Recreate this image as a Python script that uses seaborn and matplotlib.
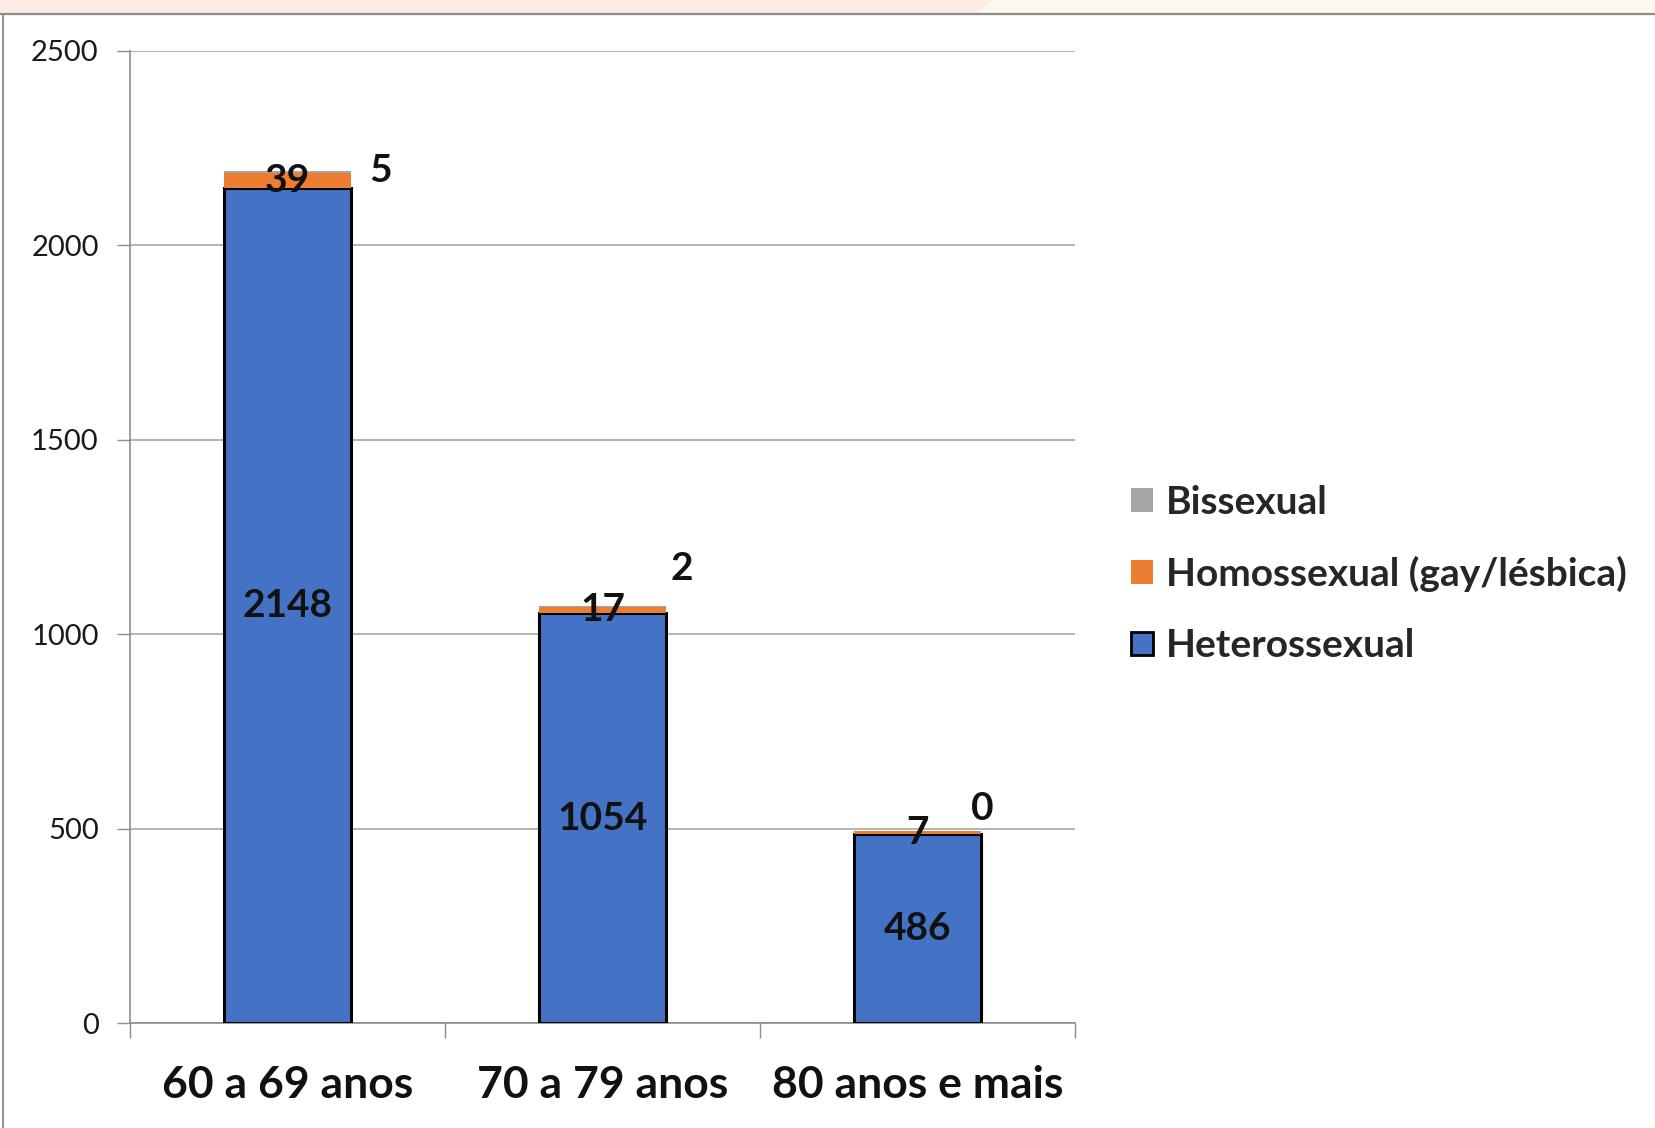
import numpy as np
import pandas as pd
import seaborn as sns
import matplotlib.pyplot as plt
from matplotlib.patches import Patch, Rectangle, Polygon
from matplotlib.lines import Line2D

# Age groups and counts by sexual orientation
faixas = ["60 a 69 anos", "70 a 79 anos", "80 anos e mais"]
heterossexual = [2148, 1054, 486]
homossexual = [39, 17, 7]
bissexual = [5, 2, 0]
y_ticks = [0, 500, 1000, 1500, 2000, 2500]

COR_HETERO = "#4472C4"
COR_HOMO = "#ED7D31"
COR_BI = "#A5A5A5"

sns.set_theme(style="white")
plt.rcParams["font.family"] = ["Lato", "DejaVu Sans"]

fig = plt.figure(figsize=(16.56, 11.28), dpi=100)
fig.patch.set_facecolor("white")

# header band and frame lines
fig.add_artist(Rectangle((0, 1 - 14 / 1128), 1, 14 / 1128, transform=fig.transFigure,
                         facecolor="#FBEDE3", edgecolor="none", zorder=0))
fig.add_artist(Polygon([(993 / 1656, 1), (1, 1), (1, 1 - 14 / 1128), (977 / 1656, 1 - 14 / 1128)],
                       closed=True, transform=fig.transFigure,
                       facecolor="#FFF8F1", edgecolor="none", zorder=0))
fig.add_artist(Line2D([0, 1], [1 - 14 / 1128] * 2, transform=fig.transFigure,
                      color="#8C8C8C", lw=1.6))
fig.add_artist(Line2D([3 / 1656] * 2, [0, 1 - 14 / 1128], transform=fig.transFigure,
                      color="#9A8F88", lw=1.4))

ax = fig.add_axes([130 / 1656, 1 - 1023 / 1128, (1075 - 130) / 1656, (1023 - 51) / 1128])

df = pd.DataFrame({"faixa": faixas,
                   "hetero": heterossexual,
                   "homo": homossexual,
                   "bi": bissexual})
base_homo = np.array(heterossexual)
base_bi = base_homo + np.array(homossexual)

w = 0.405
sns.barplot(data=df, x="faixa", y="hetero", color=COR_HETERO, width=w, saturation=1,
            edgecolor="black", linewidth=2.2, ax=ax, zorder=3)
sns.barplot(data=df, x="faixa", y="homo", color=COR_HOMO, width=w, saturation=1,
            bottom=base_homo, edgecolor="none", linewidth=0, ax=ax, zorder=3)
sns.barplot(data=df, x="faixa", y="bi", color=COR_BI, width=w, saturation=1,
            bottom=base_bi, edgecolor="none", linewidth=0, ax=ax, zorder=3)

ax.set_xlim(-0.5, 2.5)
ax.set_ylim(0, 2500)
ax.set_xlabel("")
ax.set_ylabel("")

# gridlines
ax.set_yticks(y_ticks)
ax.yaxis.grid(True, color="#A0A0A0", lw=1.1)
ax.xaxis.grid(False)
ax.set_axisbelow(True)
ax.set_yticklabels([str(v) for v in y_ticks], fontsize=21, color="#1a1a1a")
ax.tick_params(axis="y", which="major", direction="out", length=9.5, width=1,
               color="#8C8C8C", pad=13, left=True)

# category boundaries as ticks, names as minor tick labels
ax.set_xticks([-0.5, 0.5, 1.5, 2.5])
ax.set_xticklabels([])
ax.set_xticks([0, 1, 2], minor=True)
ax.set_xticklabels(faixas, minor=True, fontsize=32, fontweight="bold", color="#111111")
ax.tick_params(axis="x", which="major", direction="out", length=10.5, width=1,
               color="#8C8C8C", bottom=True)
ax.tick_params(axis="x", which="minor", length=0, pad=30)

for s in ["top", "right"]:
    ax.spines[s].set_visible(False)
for s in ["left", "bottom"]:
    ax.spines[s].set_visible(True)
    ax.spines[s].set_color("#8C8C8C")
    ax.spines[s].set_linewidth(1.2)

# value labels
lab_kw = dict(ha="center", va="center", fontsize=28, fontweight="bold",
              color="#111111", zorder=5)
for i in range(3):
    ax.text(i, heterossexual[i] / 2, str(heterossexual[i]), **lab_kw)
    ax.text(i, base_homo[i] + homossexual[i] / 2, str(homossexual[i]), **lab_kw)

bi_offsets = [(67, 1), (57, 27), (47, 16.5)]
for i in range(3):
    ax.annotate(str(bissexual[i]), xy=(i, base_bi[i] + bissexual[i] / 2),
                xytext=bi_offsets[i], textcoords="offset points", **lab_kw)

# legend
handles = [Patch(facecolor=COR_BI, edgecolor="none", label="Bissexual"),
           Patch(facecolor=COR_HOMO, edgecolor="none", label="Homossexual (gay/lésbica)"),
           Patch(facecolor=COR_HETERO, edgecolor="black", linewidth=2, label="Heterossexual")]
fig.legend(handles=handles, loc="center left", bbox_to_anchor=(1131 / 1656, 1 - 574 / 1128),
           frameon=False, prop={"family": "Lato", "weight": "bold", "size": 28},
           handlelength=0.56, handleheight=0.56, handletextpad=0.33, labelspacing=0.93,
           borderaxespad=0, borderpad=0)

fig.savefig("out.png", dpi=100, facecolor="white")
